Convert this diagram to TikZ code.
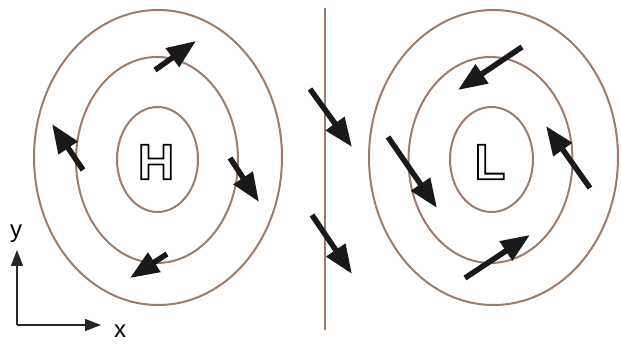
\documentclass[tikz,border=0pt]{standalone}
\usepackage{fontspec}
\setmainfont{Liberation Sans}
\usetikzlibrary{arrows.meta}
\definecolor{iso}{RGB}{155,125,105}
\newcommand{\outlinetext}[1]{\special{pdf:code q 1 Tr 1.8 w}#1\special{pdf:code Q}}
\begin{document}
\begin{tikzpicture}[x=1pt,y=-1pt,
  isobar/.style={draw=iso,line width=2pt},
  wind/.style={line width=5.5pt,black!90,-{Triangle[length=29pt,width=22pt]}},
  axis/.style={line width=1.3pt,black!85,-{Triangle[length=16pt,width=12pt]}},
  letter/.style={font=\bfseries\fontsize{50}{50}\selectfont,inner sep=0pt},
  lab/.style={font=\fontsize{24}{24}\selectfont,inner sep=0pt}]
\useasboundingbox (0,0) rectangle (621,344);
% left system
\draw[isobar] (158,157.5) ellipse [x radius=124,y radius=147.5];
\draw[isobar] (157,160) ellipse [x radius=81,y radius=103];
\draw[isobar] (157.5,159.5) ellipse [x radius=40.5,y radius=52.5];
% right system
\draw[isobar] (493.5,157.5) ellipse [x radius=124.5,y radius=147.5];
\draw[isobar] (490.5,160) ellipse [x radius=82,y radius=103];
\draw[isobar] (491.5,159.5) ellipse [x radius=41.5,y radius=52.5];
% front line
\coordinate (ftop) at (325,8);
\coordinate (fbot) at (325,330);
\draw[draw=iso,line width=2pt] (ftop) -- (fbot);
% letters
\node[letter] (H) at (156,162) {\outlinetext{H}};
\node[letter] (L) at (490,162) {\outlinetext{L}};
% winds, left
\coordinate (a1s) at (155,70);  \coordinate (a1e) at (196,41);
\coordinate (a2s) at (83,170);  \coordinate (a2e) at (52,124);
\coordinate (a3s) at (230,158); \coordinate (a3e) at (259,202);
\coordinate (a4s) at (167,254); \coordinate (a4e) at (130,278);
\draw[wind] (a1s) -- (a1e);
\draw[wind] (a2s) -- (a2e);
\draw[wind] (a3s) -- (a3e);
\draw[wind] (a4s) -- (a4e);
% winds, front
\coordinate (b1s) at (310,89);  \coordinate (b1e) at (352,147);
\coordinate (b2s) at (312,215); \coordinate (b2e) at (352,274);
\draw[wind] (b1s) -- (b1e);
\draw[wind] (b2s) -- (b2e);
% winds, right
\coordinate (c1s) at (522,47);  \coordinate (c1e) at (458,90);
\coordinate (c2s) at (388,137); \coordinate (c2e) at (437,208);
\coordinate (c3s) at (590,188); \coordinate (c3e) at (546,126);
\coordinate (c4s) at (465,278); \coordinate (c4e) at (530,235);
\draw[wind] (c1s) -- (c1e);
\draw[wind] (c2s) -- (c2e);
\draw[wind] (c3s) -- (c3e);
\draw[wind] (c4s) -- (c4e);
% axes
\coordinate (o) at (17,325);
\node[lab] (ylab) at (16,234) {y};
\node[lab] (xlab) at (120,331) {x};
\draw[axis] (o) -- (17,250);
\draw[axis] (o) -- (101,325);
\end{tikzpicture}
\end{document}
